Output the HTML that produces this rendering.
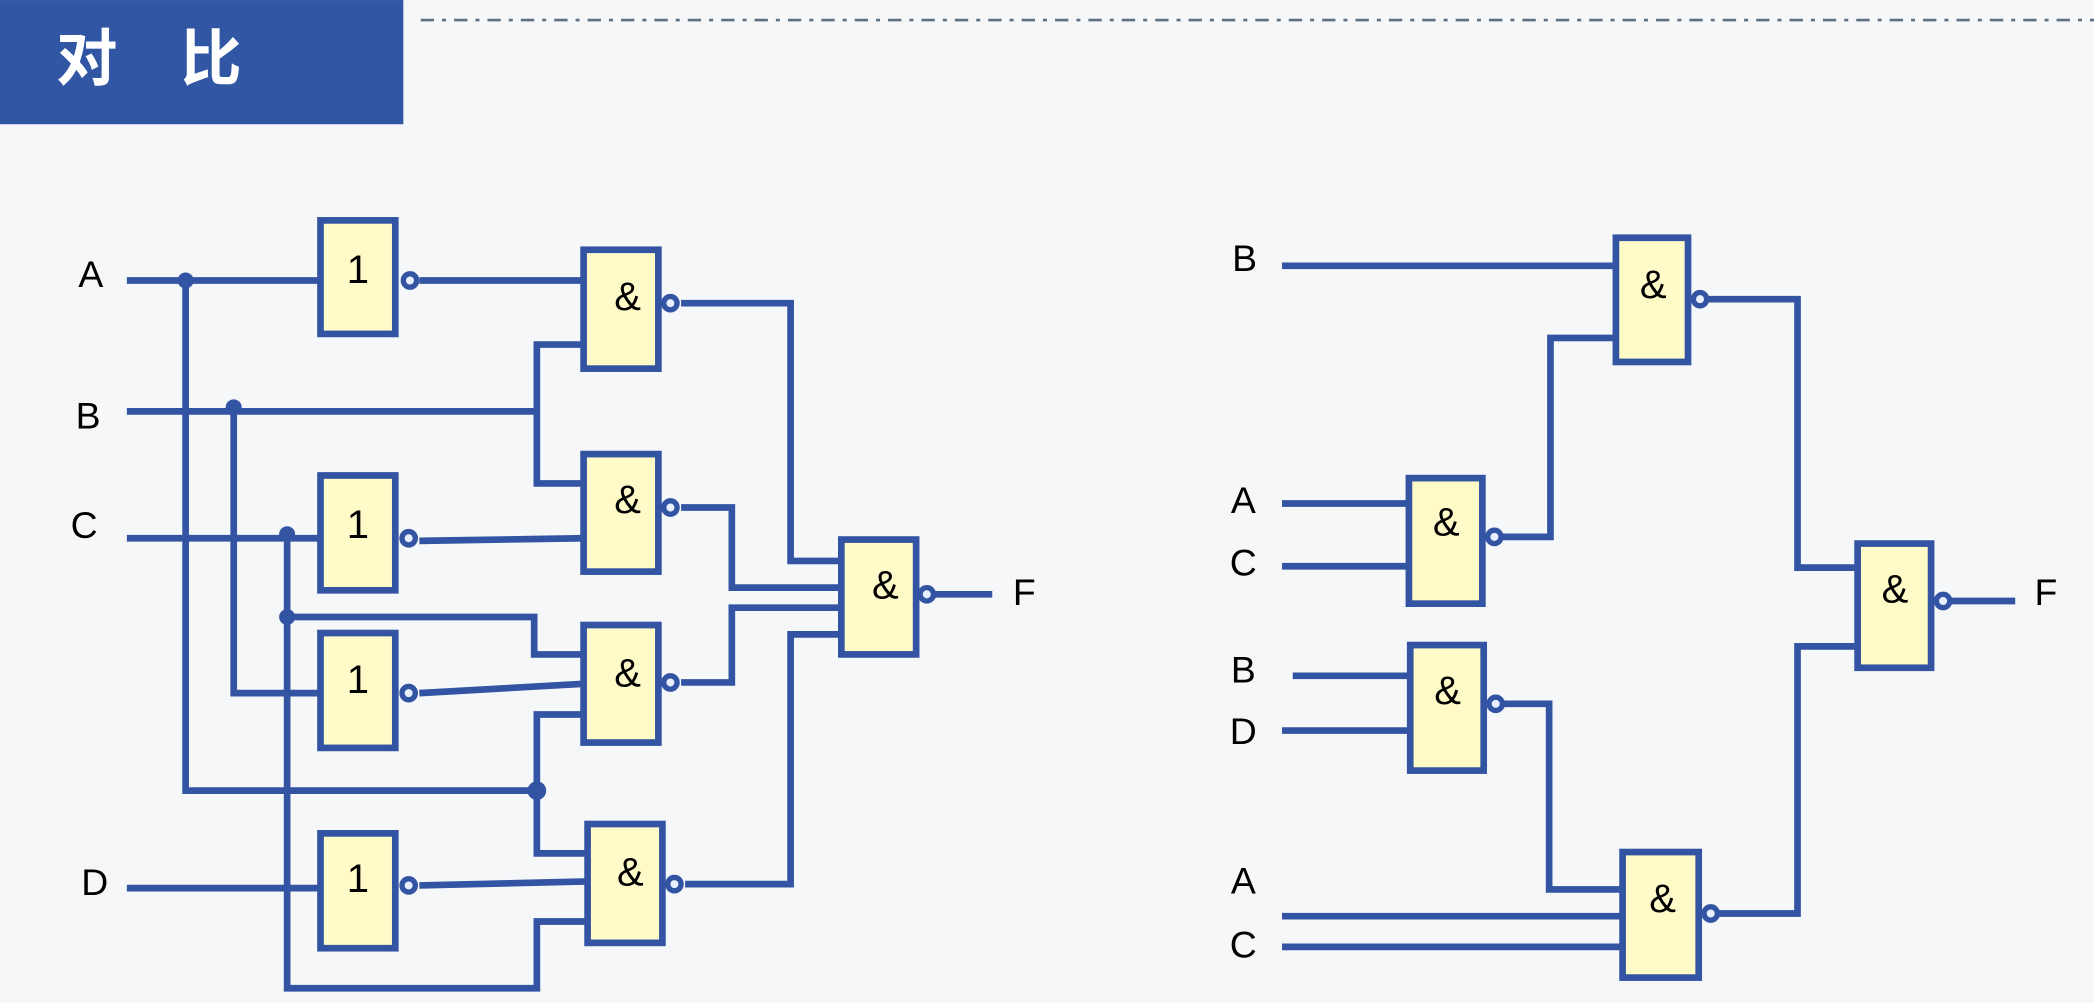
<!DOCTYPE html>
<html><head><meta charset="utf-8">
<style>
html,body{margin:0;padding:0;background:#f5f7f9;}
svg{display:block;}
text{font-family:"Liberation Sans","Noto Sans CJK SC",sans-serif;}
</style></head>
<body>
<svg width="2094" height="1003" viewBox="0 0 1568 751" xmlns="http://www.w3.org/2000/svg">
<rect width="1568" height="751" fill="#f5f7f9"/>
<rect x="0" y="0" width="302" height="93" fill="#3056a4"/>
<text x="42" y="60" font-size="46" font-weight="bold" fill="#fff" font-family="'Noto Sans CJK SC',sans-serif">对</text>
<text x="135" y="60" font-size="46" font-weight="bold" fill="#fff" font-family="'Noto Sans CJK SC',sans-serif">比</text>
<line x1="315" y1="15" x2="1568" y2="15" stroke="#5f7180" stroke-width="2" stroke-dasharray="10,6,3,6"/>

<g fill="none" stroke="#3354a2" stroke-width="5" stroke-linejoin="miter">
<polyline points="95,210 240,210"/>
<polyline points="139,210 139,592 402,592"/>
<polyline points="314,210 437,210"/>
<polyline points="95,308 402,308"/>
<polyline points="175,305 175,519 240,519"/>
<polyline points="437,258 402,258 402,362 437,362"/>
<polyline points="95,403 240,403"/>
<polyline points="215,400 215,740 402,740 402,690 440,690"/>
<polyline points="215,462 400,462 400,490 437,490"/>
<polyline points="314,405 437,403"/>
<polyline points="314,519 437,512"/>
<polyline points="437,535 402,535 402,639 440,639"/>
<polyline points="95,665 240,665"/>
<polyline points="314,663 440,660"/>
<polyline points="510,227 592,227 592,420 630,420"/>
<polyline points="510,380 548,380 548,440 630,440"/>
<polyline points="510,511 548,511 548,455 630,455"/>
<polyline points="513,662 592,662 592,475 630,475"/>
<polyline points="700,445 743,445"/>
<polyline points="960,199 1210,199"/>
<polyline points="1270,224 1346,224 1346,425 1391,425"/>
<polyline points="1210,253 1161,253 1161,402 1116,402"/>
<polyline points="960,377 1055,377"/>
<polyline points="960,424 1055,424"/>
<polyline points="968,506 1056,506"/>
<polyline points="960,547 1056,547"/>
<polyline points="1126,527 1160,527 1160,666 1215,666"/>
<polyline points="960,686 1215,686"/>
<polyline points="960,709 1215,709"/>
<polyline points="1287,684 1346,684 1346,484 1391,484"/>
<polyline points="1461,450 1509,450"/>
</g>
<g fill="#3354a2">
<circle cx="139" cy="210" r="6"/><circle cx="175" cy="305" r="6"/>
<circle cx="215" cy="400" r="6"/><circle cx="215" cy="462" r="6"/>
<circle cx="402" cy="592" r="7"/>
</g>

<g fill="#fffbc8" stroke="#3354a2" stroke-width="5">
<rect x="240" y="165" width="56" height="85"/>
<rect x="240" y="356" width="56" height="86"/>
<rect x="240" y="474" width="56" height="86"/>
<rect x="240" y="624" width="56" height="86"/>
<rect x="437" y="187" width="56" height="89"/>
<rect x="437" y="340" width="56" height="88"/>
<rect x="437" y="468" width="56" height="88"/>
<rect x="440" y="617" width="56" height="89"/>
<rect x="630" y="404" width="56" height="86"/>
<rect x="1210" y="178" width="54" height="93"/>
<rect x="1055" y="358" width="55" height="94"/>
<rect x="1056" y="483" width="55" height="94"/>
<rect x="1215" y="638" width="57" height="94"/>
<rect x="1391" y="407" width="55" height="93"/>
</g>
<g fill="#e8f0ff" stroke="#3354a2" stroke-width="4">
<circle cx="307" cy="210" r="5"/><circle cx="306" cy="403" r="5"/>
<circle cx="306" cy="519" r="5"/><circle cx="306" cy="663" r="5"/>
<circle cx="502" cy="227" r="5"/><circle cx="502" cy="380" r="5"/>
<circle cx="502" cy="511" r="5"/><circle cx="505" cy="662" r="5"/>
<circle cx="694" cy="445" r="5"/>
<circle cx="1273" cy="224" r="5"/><circle cx="1119" cy="402" r="5"/>
<circle cx="1120" cy="527" r="5"/><circle cx="1281" cy="684" r="5"/>
<circle cx="1455" cy="450" r="5"/>
</g>

<g font-size="30" fill="#000" text-anchor="middle">
<text x="268" y="212">1</text><text x="268" y="403">1</text>
<text x="268" y="519">1</text><text x="268" y="668">1</text>
<text x="470" y="232">&amp;</text><text x="470" y="384">&amp;</text>
<text x="470" y="514">&amp;</text><text x="472" y="663">&amp;</text>
<text x="663" y="448">&amp;</text>
<text x="1238" y="223">&amp;</text><text x="1083" y="401">&amp;</text>
<text x="1084" y="527">&amp;</text><text x="1245" y="683">&amp;</text>
<text x="1419" y="451">&amp;</text>
</g>
<g font-size="28" fill="#000" text-anchor="middle">
<text x="68" y="215">A</text><text x="66" y="321">B</text>
<text x="63" y="403">C</text><text x="71" y="670">D</text>
<text x="767" y="453">F</text>
<text x="932" y="203">B</text><text x="931" y="384">A</text>
<text x="931" y="431">C</text><text x="931" y="511">B</text>
<text x="931" y="557">D</text><text x="931" y="669">A</text>
<text x="931" y="717">C</text><text x="1532" y="453">F</text>
</g>
</svg>
</body></html>
